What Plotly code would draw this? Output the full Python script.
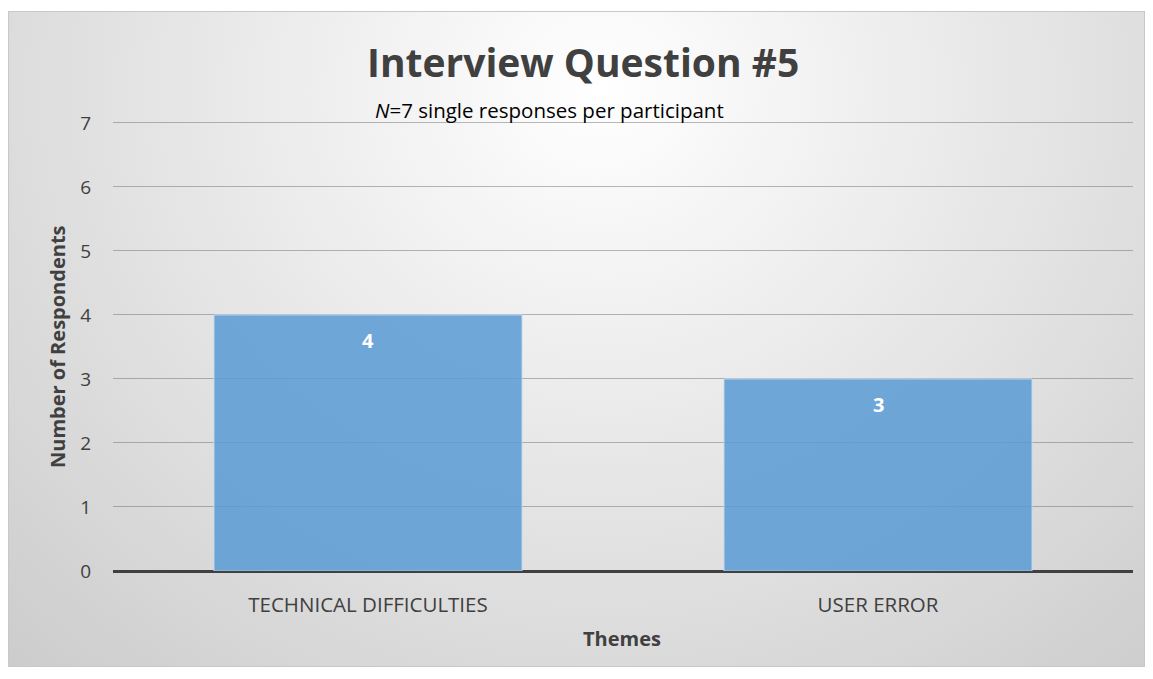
import base64
import plotly.graph_objects as go

# ---- data ----
categories = ["TECHNICAL DIFFICULTIES", "USER ERROR"]
respondents = [4, 3]
y_ticks = [0, 1, 2, 3, 4, 5, 6, 7]

title_text = "Interview Question #5"
subtitle_text = "<i>N</i>=7 single responses per participant"
x_title = "Themes"
y_title = "Number of Respondents"

W, H = 1153, 679
L, R, T, B = 113, 20, 121, 108
pw, ph = W - L - R, H - T - B

FONT = "Open Sans"
TXT = "#404040"

# radial gradient background as an SVG image
svg = f"""<svg xmlns='http://www.w3.org/2000/svg' width='1137' height='656' viewBox='0 0 1137 656'>
<defs><radialGradient id='g' cx='0.52' cy='0.12' r='0.95' fx='0.52' fy='0.12' gradientTransform='translate(0.52 0.12) scale(1 1.6) translate(-0.52 -0.12)'>
<stop offset='0' stop-color='#ffffff'/><stop offset='0.55' stop-color='#dcdcdc'/><stop offset='1' stop-color='#bfbfbf'/></radialGradient></defs>
<rect x='0.5' y='0.5' width='1136' height='655' fill='url(#g)' stroke='#c8c8c8' stroke-width='1'/></svg>"""
src = "data:image/svg+xml;base64," + base64.b64encode(svg.encode()).decode()

def px2x(px):
    return (px - L) / pw

def py2y(py):
    return (H - B - py) / ph

fig = go.Figure()
fig.add_trace(go.Bar(
    x=categories, y=respondents,
    marker=dict(color="rgba(91,155,213,0.86)",
                line=dict(color="rgba(200,222,243,0.9)", width=1)),
    width=0.604,
    hoverinfo="x+y",
))

for c, v in zip(categories, respondents):
    fig.add_annotation(x=c, y=v, text=f"<b>{v}</b>", showarrow=False,
                       yanchor="middle", yshift=-26,
                       font=dict(family=FONT, size=20, color="white"))

fig.add_layout_image(dict(
    source=src, xref="paper", yref="paper",
    x=px2x(8), y=py2y(11), sizex=px2x(1145) - px2x(8), sizey=py2y(11) - py2y(667),
    xanchor="left", yanchor="top", sizing="stretch", layer="below",
))

fig.add_annotation(xref="paper", yref="paper", x=px2x(583), y=py2y(62),
                   text=f"<b>{title_text}</b>", showarrow=False,
                   xanchor="center", yanchor="middle",
                   font=dict(family=FONT, size=39, color=TXT))
fig.add_annotation(xref="paper", yref="paper", x=px2x(549), y=py2y(110),
                   text=subtitle_text, showarrow=False,
                   xanchor="center", yanchor="middle",
                   font=dict(family=FONT, size=20.5, color="#000000"))
fig.add_annotation(xref="paper", yref="paper", x=px2x(622), y=py2y(638),
                   text=f"<b>{x_title}</b>", showarrow=False,
                   xanchor="center", yanchor="middle",
                   font=dict(family=FONT, size=20, color=TXT))
fig.add_annotation(xref="paper", yref="paper", x=px2x(57), y=py2y(347),
                   text=f"<b>{y_title}</b>", showarrow=False, textangle=-90,
                   xanchor="center", yanchor="middle",
                   font=dict(family=FONT, size=20, color=TXT))

fig.update_layout(
    width=W, height=H,
    margin=dict(l=L, r=R, t=T, b=B, pad=0),
    paper_bgcolor="white", plot_bgcolor="rgba(0,0,0,0)",
    showlegend=False,
    bargap=0.396,
    font=dict(family=FONT, color=TXT),
)
fig.update_xaxes(
    showgrid=False, ticks="", showline=False,
    tickfont=dict(family=FONT, size=20.5, color=TXT),
    ticklabelstandoff=19,
)
fig.update_yaxes(
    range=[0, 7.03], tickvals=y_ticks, showgrid=True,
    gridcolor="rgba(100,100,100,0.45)", gridwidth=1.3,
    zeroline=True, zerolinecolor="#404040", zerolinewidth=3,
    tickfont=dict(family=FONT, size=19, color=TXT),
    ticklabelstandoff=21,
)

fig.write_html("out.html", config={"displayModeBar": False},
               post_script="document.body.style.margin='0';")
